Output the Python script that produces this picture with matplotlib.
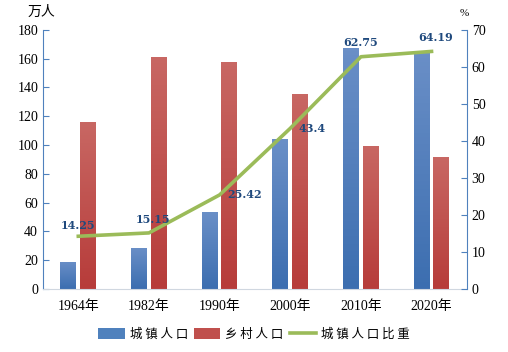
import matplotlib
matplotlib.use("Agg")
import matplotlib.pyplot as plt
import numpy as np
from matplotlib.colors import LinearSegmentedColormap

plt.rcParams['font.family'] = ['Liberation Serif', 'Noto Sans CJK SC']

categories = ["1964年", "1982年", "1990年", "2000年", "2010年", "2020年"]
urban = [18.8, 28.5, 53.5, 104.2, 167.7, 165.0]
rural = [116.0, 161.2, 157.7, 135.5, 99.4, 91.7]
ratio = [14.25, 15.15, 25.42, 43.4, 62.75, 64.19]
ratio_labels = ["14.25", "15.15", "25.42", "43.4", "62.75", "64.19"]
label_offsets = [(0, 8), (3, 10), (18, 0), (16, 0), (0, 10), (3, 10)]

fig = plt.figure(figsize=(5.08, 3.52), dpi=100)
ax = fig.add_axes([0.0846, 0.179, 0.8344, 0.736])
ax2 = ax.twinx()

x = np.arange(len(categories))
w = 0.226
b1 = ax.bar(x - 0.14, urban, w, color="#4F81BD", label="城镇人口", zorder=2)
b2 = ax.bar(x + 0.14, rural, w, color="#C0504D", label="乡村人口", zorder=2)

def gradient(bars, top, bottom):
    cmap = LinearSegmentedColormap.from_list("g", [bottom, top])
    grad = np.linspace(0, 1, 64).reshape(-1, 1)
    for p in bars:
        x0, y0 = p.get_x(), p.get_y()
        im = ax.imshow(grad, cmap=cmap, origin="lower", aspect="auto",
                       extent=[x0, x0 + p.get_width(), y0, y0 + p.get_height()],
                       zorder=2.5)
        im.set_clip_path(p)

gradient(b1, "#6A8FC7", "#3C6EB0")
gradient(b2, "#C86763", "#B73C3A")

ax.set_xlim(-0.5, len(categories) - 0.5)
ax.set_ylim(0, 180)
ax.set_yticks(range(0, 181, 20))
ax2.set_ylim(0, 70)
ax2.set_yticks(range(0, 71, 10))

line, = ax2.plot(x, ratio, color="#9BBB59", lw=2.6, label="城镇人口比重", zorder=3)
for xi, yi, t, off in zip(x, ratio, ratio_labels, label_offsets):
    ax2.annotate(t, (xi, yi), xytext=off, textcoords="offset points",
                 ha="center", va="center", fontsize=8, fontweight="bold",
                 color="#1F497D", family=['DejaVu Serif'])

ax.set_xticks(x)
ax.set_xticklabels(categories, fontsize=10)
ax.tick_params(axis="x", length=0, pad=8)
ax.tick_params(axis="y", direction="in", length=4, color="#4F81BD", labelsize=10)
ax2.tick_params(axis="y", direction="in", length=4, color="#4F81BD", labelsize=10)

for a in (ax, ax2):
    a.spines["top"].set_visible(False)
    a.spines["left"].set_color("#4F81BD")
    a.spines["right"].set_color("#4F81BD")
    a.spines["bottom"].set_color("#D0D7E0")
ax.spines["right"].set_visible(False)
ax2.spines["left"].set_visible(False)
ax2.spines["bottom"].set_visible(False)

fig.text(0.055, 0.955, "万人", fontsize=10, family=['Noto Sans CJK SC'], style="italic")
fig.text(0.905, 0.955, "%", fontsize=8)

handles = [b1, b2, line]
fig.legend(handles, ["城 镇 人 口", "乡 村 人 口", "城 镇 人 口 比 重"], loc="lower center",
           bbox_to_anchor=(0.5, 0.0), ncol=3, frameon=False,
           handlelength=2.1, handleheight=0.9, columnspacing=0.5, handletextpad=0.4,
           prop={'family': ['Noto Sans CJK SC'], 'size': 9})

fig.savefig("out.png", dpi=100)
